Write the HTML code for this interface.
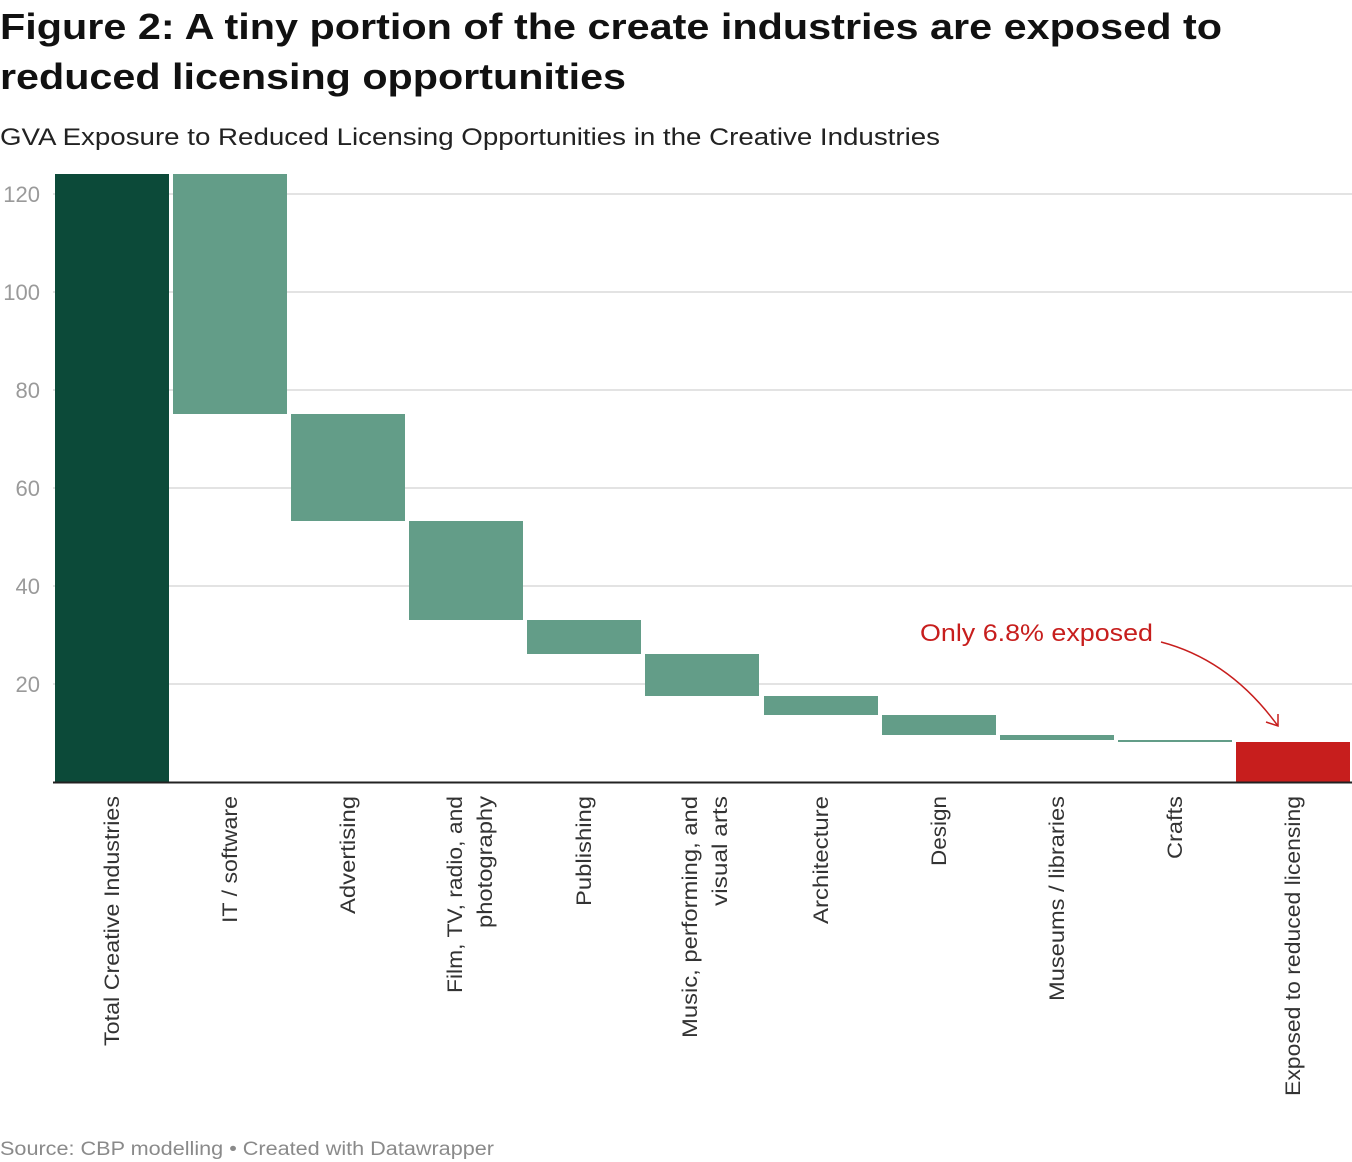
<!DOCTYPE html>
<html><head><meta charset="utf-8"><style>
html,body{margin:0;padding:0;background:#fff;}
svg{display:block;font-family:"Liberation Sans",Arial,sans-serif;}
</style></head><body>
<svg width="1352" height="1162" viewBox="0 0 1352 1162" xmlns="http://www.w3.org/2000/svg">
<text x="0" y="39" font-size="36" font-weight="bold" fill="#111" textLength="1222" lengthAdjust="spacingAndGlyphs">Figure 2: A tiny portion of the create industries are exposed to</text>
<text x="0" y="89" font-size="36" font-weight="bold" fill="#111" textLength="626" lengthAdjust="spacingAndGlyphs">reduced licensing opportunities</text>
<text x="0" y="145" font-size="24" fill="#222" textLength="940" lengthAdjust="spacingAndGlyphs">GVA Exposure to Reduced Licensing Opportunities in the Creative Industries</text>
<g stroke="#e3e3e3" stroke-width="2">
<line x1="53" x2="1352" y1="194" y2="194"/><line x1="53" x2="1352" y1="292" y2="292"/>
<line x1="53" x2="1352" y1="390" y2="390"/><line x1="53" x2="1352" y1="488" y2="488"/>
<line x1="53" x2="1352" y1="586" y2="586"/><line x1="53" x2="1352" y1="684" y2="684"/>
</g>
<g font-size="22" fill="#9a9a9a" text-anchor="end">
<text x="40" y="202">120</text><text x="40" y="300">100</text><text x="40" y="398">80</text>
<text x="40" y="496">60</text><text x="40" y="594">40</text><text x="40" y="692">20</text>
</g>
<rect x="55" y="174" width="114" height="608" fill="#0c4a39"/>
<g fill="#639d88">
<rect x="173" y="174" width="114" height="240"/>
<rect x="291" y="414" width="114" height="107"/>
<rect x="409" y="521" width="114" height="99"/>
<rect x="527" y="620" width="114" height="34"/>
<rect x="645" y="654" width="114" height="42"/>
<rect x="764" y="696" width="114" height="19"/>
<rect x="882" y="715" width="114" height="20"/>
<rect x="1000" y="735" width="114" height="5"/>
<rect x="1118" y="740" width="114" height="2"/>
</g>
<rect x="1236" y="742" width="114" height="40" fill="#c71e1d"/>
<line x1="53" x2="1352" y1="782.5" y2="782.5" stroke="#222" stroke-width="2"/>
<g font-size="21" fill="#333" text-anchor="end">
<text transform="translate(119,796) rotate(-90)" textLength="250" lengthAdjust="spacingAndGlyphs">Total Creative Industries</text>
<text transform="translate(237,796) rotate(-90)" textLength="127" lengthAdjust="spacingAndGlyphs">IT / software</text>
<text transform="translate(355,796) rotate(-90)" textLength="118" lengthAdjust="spacingAndGlyphs">Advertising</text>
<text transform="translate(462,796) rotate(-90)" textLength="197" lengthAdjust="spacingAndGlyphs">Film, TV, radio, and</text>
<text transform="translate(492,796) rotate(-90)" textLength="132" lengthAdjust="spacingAndGlyphs">photography</text>
<text transform="translate(591,796) rotate(-90)" textLength="110" lengthAdjust="spacingAndGlyphs">Publishing</text>
<text transform="translate(697,796) rotate(-90)" textLength="242" lengthAdjust="spacingAndGlyphs">Music, performing, and</text>
<text transform="translate(727,796) rotate(-90)" textLength="110" lengthAdjust="spacingAndGlyphs">visual arts</text>
<text transform="translate(828,796) rotate(-90)" textLength="128" lengthAdjust="spacingAndGlyphs">Architecture</text>
<text transform="translate(946,796) rotate(-90)" textLength="70" lengthAdjust="spacingAndGlyphs">Design</text>
<text transform="translate(1064,796) rotate(-90)" textLength="205" lengthAdjust="spacingAndGlyphs">Museums / libraries</text>
<text transform="translate(1182,796) rotate(-90)" textLength="63" lengthAdjust="spacingAndGlyphs">Crafts</text>
<text transform="translate(1300,796) rotate(-90)" textLength="300" lengthAdjust="spacingAndGlyphs">Exposed to reduced licensing</text>
</g>
<text x="920" y="641" font-size="24" fill="#c71e1d" textLength="233" lengthAdjust="spacingAndGlyphs">Only 6.8% exposed</text>
<path d="M1161,642 Q1230,660 1278,726" fill="none" stroke="#c71e1d" stroke-width="1.5"/>
<path d="M1266,722 L1278,726 L1278,714" fill="none" stroke="#c71e1d" stroke-width="1.5"/>
<text x="0" y="1155" font-size="19" fill="#8a8a8a" textLength="494" lengthAdjust="spacingAndGlyphs">Source: CBP modelling • Created with Datawrapper</text>
</svg>
</body></html>
